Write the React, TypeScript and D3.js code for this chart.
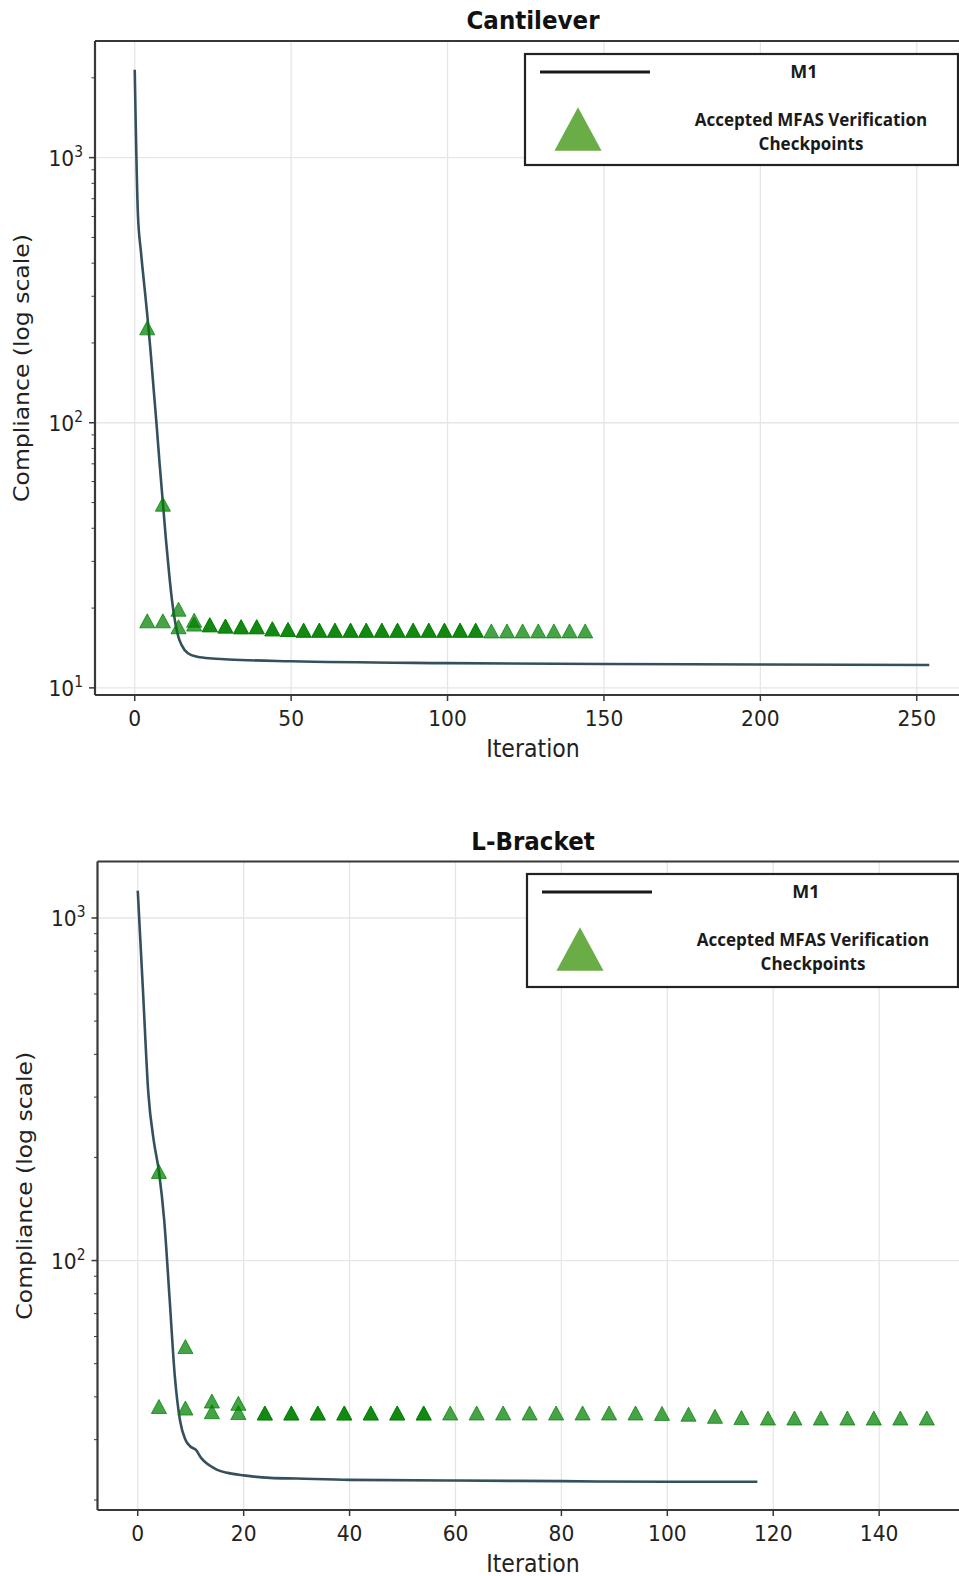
import React from "react";
import * as d3 from "d3";

// Cantilever: M1 compliance per iteration
const cantLineIter = [0, 1, 2, 3, 4, 5, 6, 7, 8, 9, 10, 11, 12, 13, 14, 15, 17, 20, 25, 30, 50, 100, 150, 200, 254];
const cantLineVal = [2144, 620, 440, 335, 256, 190, 136, 98, 69, 50, 36, 27, 21, 17.5, 15.5, 14.5, 13.5, 13.1, 12.9, 12.8, 12.6, 12.4, 12.3, 12.25, 12.2];

// Cantilever: accepted MFAS checkpoints (two overlapping runs)
const cantCheckIterA = [4, 9, 14, 19, 24, 29, 34, 39, 44, 49, 54, 59, 64, 69, 74, 79, 84, 89, 94, 99, 104, 109, 114, 119, 124, 129, 134, 139, 144];
const cantCheckValA = [17.9, 17.9, 17.0, 17.4, 17.3, 17.1, 17.0, 17.0, 16.7, 16.6, 16.5, 16.5, 16.5, 16.5, 16.5, 16.5, 16.5, 16.5, 16.5, 16.5, 16.5, 16.5, 16.4, 16.4, 16.4, 16.4, 16.4, 16.4, 16.4];
const cantCheckIterB = [4, 9, 14, 19, 24, 29, 34, 39, 44, 49, 54, 59, 64, 69, 74, 79, 84, 89, 94, 99, 104, 109];
const cantCheckValB = [228, 49.3, 19.8, 18.0, 17.3, 17.1, 17.0, 17.0, 16.7, 16.6, 16.5, 16.5, 16.5, 16.5, 16.5, 16.5, 16.5, 16.5, 16.5, 16.5, 16.5, 16.5];

// L-Bracket
const brkLineIter = [0, 1, 2, 3, 4, 5, 6, 7, 8, 9, 10, 11, 12, 13, 14, 15, 17, 20, 25, 30, 40, 60, 80, 100, 117];
const brkLineVal = [1202, 608, 308, 225, 182, 131, 78, 46, 34, 30, 28.6, 28.0, 26.5, 25.6, 25.0, 24.5, 24.0, 23.6, 23.2, 23.1, 22.9, 22.8, 22.7, 22.6, 22.6];

const brkCheckIterA = [4, 9, 14, 19, 24, 29, 34, 39, 44, 49, 54, 59, 64, 69, 74, 79, 84, 89, 94, 99, 104, 109, 114, 119, 124, 129, 134, 139, 144, 149];
const brkCheckValA = [37.5, 37.1, 36.2, 36.0, 35.9, 35.9, 35.9, 35.9, 35.9, 35.9, 35.9, 35.9, 35.9, 35.9, 35.9, 35.9, 35.9, 35.9, 35.9, 35.8, 35.6, 35.1, 34.8, 34.7, 34.7, 34.7, 34.7, 34.7, 34.7, 34.7];
const brkCheckIterB = [4, 9, 14, 19, 24, 29, 34, 39, 44, 49, 54];
const brkCheckValB = [182, 56.1, 38.9, 38.3, 35.9, 35.9, 35.9, 35.9, 35.9, 35.9, 35.9];

const cantXTicks = [0, 50, 100, 150, 200, 250];
const brkXTicks = [0, 20, 40, 60, 80, 100, 120, 140];

const legendLabels = ["M1", "Accepted MFAS Verification", "Checkpoints"];

const LINE_COLOR = "#34505f";
const MARK_COLOR = "#008000";
const AXIS_COLOR = "#383838";
const FONT = "DejaVu Sans, sans-serif";
const SQ = 0.92; // the figure is slightly squeezed horizontally

// matplotlib style "^" marker, centred on its box
const triangleUp = {
  draw(ctx: any, size: number) {
    const r = Math.sqrt(size) / 2;
    ctx.moveTo(0, -r);
    ctx.lineTo(r * 1.08, r);
    ctx.lineTo(-r * 1.08, r);
    ctx.closePath();
  },
};

function Panel(props: any) {
  const { title, box, xDomain, yDomain, xTicks, lineIter, lineVal, aIter, aVal, bIter, bVal, legend } = props;

  const x = d3.scaleLinear().domain(xDomain).range([box.left, box.right]);
  const y = d3.scaleLog().domain(yDomain).range([box.bottom, box.top]);

  const allTicks = y.ticks();
  const major = allTicks.filter((t) => Math.abs(Math.log10(t) - Math.round(Math.log10(t))) < 1e-9);
  const minor = allTicks.filter((t) => !major.includes(t));

  const line = d3
    .line<number>()
    .x((d, i) => x(lineIter[i]))
    .y((d) => y(d))
    .curve(d3.curveMonotoneX);

  const sym = d3.symbol(triangleUp as any, 196)();
  const legendSym = d3.symbol(triangleUp as any, 1900)();

  const midY = (box.top + box.bottom) / 2;
  const midX = 533;

  return (
    <g>
      {/* grid */}
      {xTicks.map((t: number) => (
        <line key={"gx" + t} x1={x(t)} x2={x(t)} y1={box.top} y2={box.bottom} stroke="#e6e6e6" strokeWidth={1.3} />
      ))}
      {major.map((t) => (
        <line key={"gy" + t} x1={box.left} x2={box.right} y1={y(t)} y2={y(t)} stroke="#e6e6e6" strokeWidth={1.3} />
      ))}

      {/* M1 curve */}
      <path d={line(lineVal) || ""} fill="none" stroke={LINE_COLOR} strokeWidth={2.6} />

      {/* checkpoints */}
      {aIter.map((it: number, i: number) => (
        <path key={"a" + i} d={sym || ""} transform={`translate(${x(it)},${y(aVal[i])})`} fill={MARK_COLOR} fillOpacity={0.72} stroke={MARK_COLOR} strokeOpacity={0.72} strokeWidth={1} />
      ))}
      {bIter.map((it: number, i: number) => (
        <path key={"b" + i} d={sym || ""} transform={`translate(${x(it)},${y(bVal[i])})`} fill={MARK_COLOR} fillOpacity={0.72} stroke={MARK_COLOR} strokeOpacity={0.72} strokeWidth={1} />
      ))}

      {/* spines */}
      <line x1={box.left} x2={box.left} y1={box.top} y2={box.bottom} stroke={AXIS_COLOR} strokeWidth={2.2} />
      <line x1={box.left} x2={box.right} y1={box.top} y2={box.top} stroke={AXIS_COLOR} strokeWidth={2.2} />
      <line x1={box.left} x2={box.right} y1={box.bottom} y2={box.bottom} stroke={AXIS_COLOR} strokeWidth={2.2} />

      {/* x ticks */}
      {xTicks.map((t: number) => (
        <g key={"xt" + t}>
          <line x1={x(t)} x2={x(t)} y1={box.bottom} y2={box.bottom + 6} stroke={AXIS_COLOR} strokeWidth={1.5} />
          <text transform={`translate(${x(t)},${box.bottom + 31}) scale(${SQ},1)`} textAnchor="middle" fontFamily={FONT} fontSize={22} fill="#222">
            {t}
          </text>
        </g>
      ))}

      {/* y ticks */}
      {minor.map((t) => (
        <line key={"ym" + t} x1={box.left - 3.5} x2={box.left} y1={y(t)} y2={y(t)} stroke={AXIS_COLOR} strokeWidth={1} />
      ))}
      {major.map((t) => (
        <g key={"yt" + t}>
          <line x1={box.left - 6} x2={box.left} y1={y(t)} y2={y(t)} stroke={AXIS_COLOR} strokeWidth={1.5} />
          <text transform={`translate(${box.left - 12},${y(t) + 8}) scale(${SQ},1)`} textAnchor="end" fontFamily={FONT} fontSize={22} fill="#222">
            10
            <tspan fontSize={15} dy={-9}>
              {Math.round(Math.log10(t))}
            </tspan>
          </text>
        </g>
      ))}

      {/* axis labels and title */}
      <text transform={`translate(${midX},${box.bottom + 62}) scale(${SQ},1)`} textAnchor="middle" fontFamily={FONT} fontSize={24} fill="#222">
        Iteration
      </text>
      <text transform={`translate(${box.left - 66},${midY}) scale(${SQ},1) rotate(-90)`} textAnchor="middle" fontFamily={FONT} fontSize={23.5} fill="#222">
        Compliance (log scale)
      </text>
      <text transform={`translate(${midX},${box.top - 12}) scale(${SQ},1)`} textAnchor="middle" fontFamily={FONT} fontWeight="bold" fontSize={25} fill="#111">
        {title}
      </text>

      {/* legend */}
      <g>
        <rect x={legend.left} y={legend.top} width={legend.right - legend.left} height={legend.bottom - legend.top} fill="white" stroke="#222" strokeWidth={2.2} />
        <line x1={legend.left + 15} x2={legend.left + 125} y1={legend.top + 18} y2={legend.top + 18} stroke="#1a1a1a" strokeWidth={2.8} />
        <text x={legend.left + 279} y={legend.top + 24} textAnchor="middle" fontFamily="Open Sans, sans-serif" fontWeight="bold" fontSize={18} fill="#1a1a1a">
          {legendLabels[0]}
        </text>
        <path d={legendSym || ""} transform={`translate(${legend.left + 53},${legend.top + 75})`} fill="#6aac46" />
        <text x={legend.left + 286} y={legend.top + 72} textAnchor="middle" fontFamily="Open Sans, sans-serif" fontWeight="bold" fontSize={17} fill="#1a1a1a">
          {legendLabels[1]}
        </text>
        <text x={legend.left + 286} y={legend.top + 96} textAnchor="middle" fontFamily="Open Sans, sans-serif" fontWeight="bold" fontSize={17} fill="#1a1a1a">
          {legendLabels[2]}
        </text>
      </g>
    </g>
  );
}

export default function App() {
  return (
    <svg width={959} height={1576} style={{ position: "absolute", left: 0, top: 0, background: "white" }}>
      <Panel
        title="Cantilever"
        box={{ left: 95, right: 969, top: 41, bottom: 695 }}
        xDomain={[-12.7, 266.7]}
        yDomain={[9.4, 2754]}
        xTicks={cantXTicks}
        lineIter={cantLineIter}
        lineVal={cantLineVal}
        aIter={cantCheckIterA}
        aVal={cantCheckValA}
        bIter={cantCheckIterB}
        bVal={cantCheckValB}
        legend={{ left: 525, right: 958, top: 54, bottom: 165 }}
      />
      <Panel
        title="L-Bracket"
        box={{ left: 97.5, right: 966, top: 861.5, bottom: 1510 }}
        xDomain={[-7.6, 156.4]}
        yDomain={[18.7, 1462]}
        xTicks={brkXTicks}
        lineIter={brkLineIter}
        lineVal={brkLineVal}
        aIter={brkCheckIterA}
        aVal={brkCheckValA}
        bIter={brkCheckIterB}
        bVal={brkCheckValB}
        legend={{ left: 527, right: 958, top: 874, bottom: 987 }}
      />
    </svg>
  );
}
